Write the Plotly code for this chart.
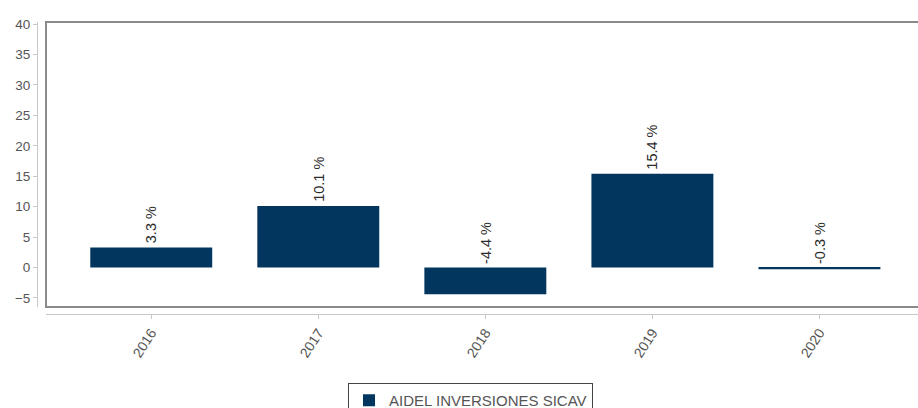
import plotly.graph_objects as go

categories = ["2016", "2017", "2018", "2019", "2020"]
values = [3.3, 10.1, -4.4, 15.4, -0.3]
labels = ["3.3 %", "10.1 %", "-4.4 %", "15.4 %", "-0.3 %"]
series_name = "AIDEL INVERSIONES SICAV"
y_ticks = [-5, 0, 5, 10, 15, 20, 25, 30, 35, 40]

W, H = 918, 408
ml, mt, mb, mr = 37, 22, 94, 0
pw = W - ml - mr
ph = H - mt - mb
xd0 = 9 / pw
yd0 = 7 / ph

FONT = "Liberation Sans, Arial"

fig = go.Figure()
fig.add_trace(go.Bar(
    x=list(range(len(categories))), y=values, name=series_name,
    marker=dict(color="#03365f", line=dict(width=0)),
    width=0.73, showlegend=True,
))

for i, (v, t) in enumerate(zip(values, labels)):
    fig.add_annotation(
        x=i, y=max(v, 0), text=t, textangle=-90, showarrow=False,
        xanchor="center", yanchor="bottom", yshift=2,
        font=dict(family=FONT, size=14.5, color="#2a2a2a"),
    )

fig.add_shape(type="rect", xref="paper", yref="paper", x0=xd0, x1=1.02, y0=yd0, y1=1,
              line=dict(color="#8a8a8a", width=2), fillcolor="rgba(0,0,0,0)", layer="above")

fig.update_layout(
    width=W, height=H,
    margin=dict(l=ml, r=mr, t=mt, b=mb, pad=0, autoexpand=False),
    paper_bgcolor="white", plot_bgcolor="white",
    font=dict(family=FONT, size=13, color="#555"),
    xaxis=dict(
        domain=[xd0, 1], anchor="free", position=0,
        range=[-0.63, 4.59], automargin=False,
        tickmode="array", tickvals=list(range(len(categories))), ticktext=categories,
        tickangle=-57, showline=True, linecolor="#c8c8c8", linewidth=1,
        ticks="outside", ticklen=4, tickcolor="#c8c8c8",
        showgrid=False, zeroline=False,
        tickfont=dict(family=FONT, size=14, color="#555"),
    ),
    yaxis=dict(
        domain=[yd0, 1], anchor="free", position=0,
        range=[-6.48, 40.33], automargin=False,
        tickmode="array", tickvals=y_ticks,
        showline=True, linecolor="#c8c8c8", linewidth=1,
        ticks="outside", ticklen=4, tickcolor="#c8c8c8",
        showgrid=False, zeroline=False,
        tickfont=dict(family=FONT, size=13.5, color="#555"),
    ),
    legend=dict(
        orientation="h", x=(348 - ml) / pw, xanchor="left", y=(314 - 383) / ph, yanchor="top",
        bordercolor="#444", borderwidth=1, bgcolor="white",
        font=dict(family=FONT, size=15, color="#555"),
    ),
)

fig.write_html(
    "out.html",
    config={"displayModeBar": False},
    post_script="document.body.style.margin='0px';document.documentElement.style.overflow='hidden';",
)
